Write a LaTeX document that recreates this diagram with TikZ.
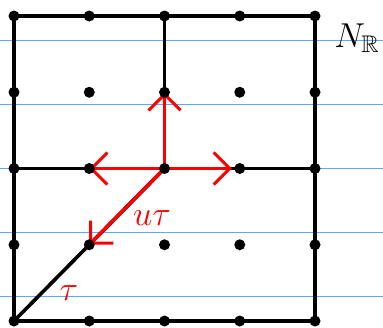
\documentclass[tikz,border=0pt]{standalone}
\usepackage{amssymb}
\usetikzlibrary{arrows.meta}
\definecolor{rulecolor}{RGB}{90,170,250}
\tikzset{
    ruled/.style={draw=rulecolor, line width=0.75pt},
    gridline/.style={draw=black, line width=1.8pt, line cap=round, line join=round},
    redarrow/.style={draw=red, line width=1.7pt, -{Straight Barb[length=8pt, width=16pt, line width=1.5pt]}},
    dot/.style={circle, fill=black, inner sep=0pt, minimum size=5.5pt},
    redlabel/.style={text=red, font=\LARGE}
}

\begin{document}
\begin{tikzpicture}[x=0.5pt, y=-0.5pt]
    \useasboundingbox (0,0) rectangle (383,327);
    % ruled paper
    \foreach \y in {40.5, 104.5, 168.5, 232.5, 296.5}
        \draw [ruled] (0,\y) -- (383,\y);
    % lattice points
    \foreach \c in {0,...,4}
        \foreach \r in {0,...,4}
            \coordinate (p-\c-\r) at ({14+75.25*\c}, {16+76.25*\r});
    % lines of the lattice
    \draw [gridline] (p-0-0) -- (p-4-0) -- (p-4-4) -- (p-0-4) -- cycle;
    \draw [gridline] (p-2-0) -- (p-2-2);
    \draw [gridline] (p-0-2) -- (p-4-2);
    \draw [gridline] (p-0-4) -- (p-2-2);
    % directions
    \draw [redarrow] (p-2-2) -- (p-2-1);
    \draw [redarrow] (p-2-2) -- (p-1-2);
    \draw [redarrow, shorten >=4pt] (p-2-2) -- (p-3-2);
    \draw [redarrow] (p-2-2) -- (p-1-3);
    \foreach \c in {0,...,4}
        \foreach \r in {0,...,4}
            \node [dot] (d-\c-\r) at (p-\c-\r) {};
    % labels
    \node (ut) [redlabel] at (152,218) {$u\tau$};
    \node (tau) [redlabel] at (69,293) {$\tau$};
    \node (NR) [font=\LARGE] at (357,38) {$N_{\mathbb{R}}$};
\end{tikzpicture}
\end{document}
